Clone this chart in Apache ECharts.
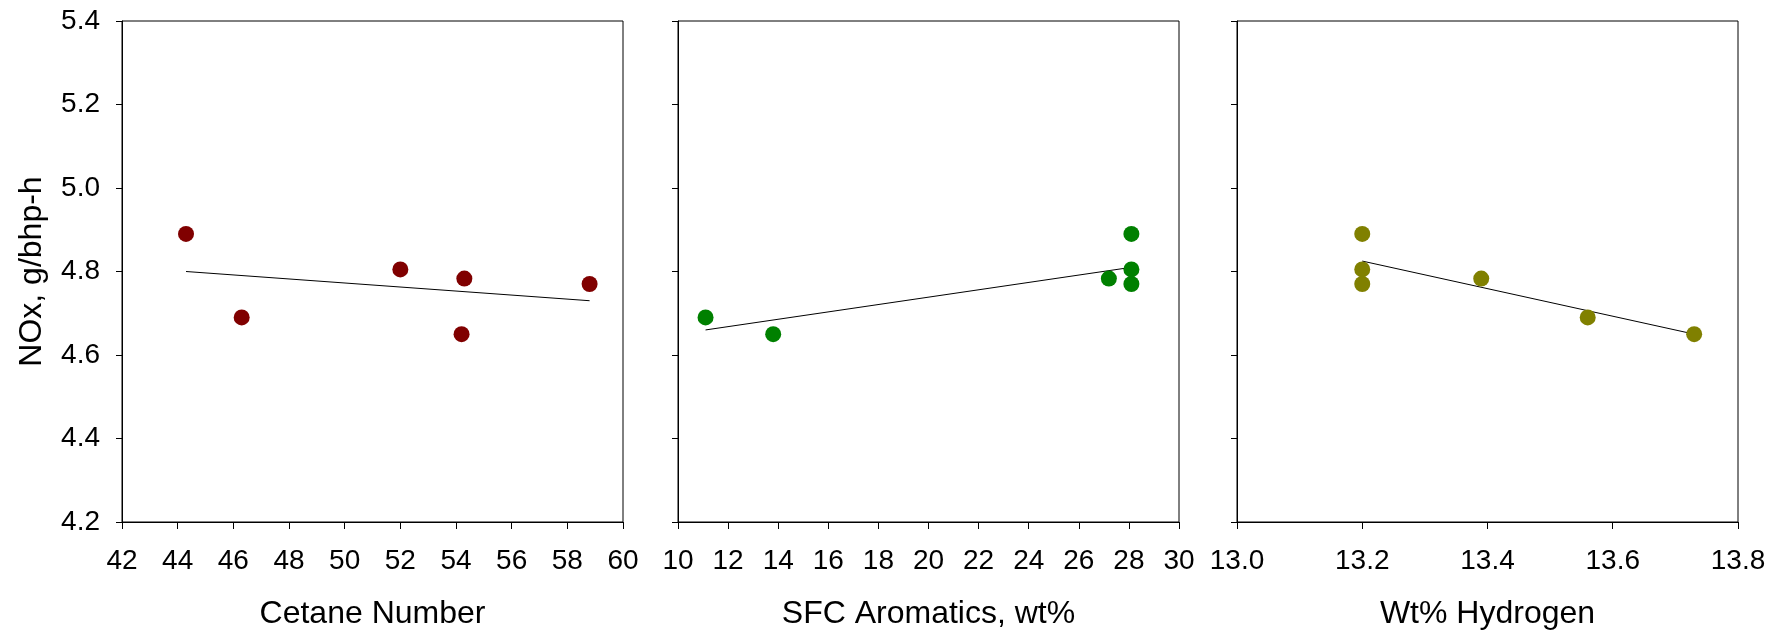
<!DOCTYPE html>
<html>
<head>
<meta charset="utf-8">
<title>NOx vs fuel properties</title>
<script src="https://cdn.jsdelivr.net/npm/echarts@6/dist/echarts.min.js"></script>
<style>
  html, body { margin: 0; padding: 0; background: #fff; }
  #chart { width: 1781px; height: 631px; }
</style>
</head>
<body>
<div id="chart"></div>
<script>
// NOx, g/bhp-h measured per fuel
var cetanePoints = [[44.3, 4.89], [46.3, 4.69], [52.0, 4.805], [54.3, 4.783], [54.2, 4.65], [58.8, 4.77]];
var cetaneTrend = [[44.3, 4.80], [58.8, 4.73]];

var aromaticsPoints = [[28.1, 4.89], [11.1, 4.69], [28.1, 4.805], [27.2, 4.783], [13.8, 4.65], [28.1, 4.77]];
var aromaticsTrend = [[11.1, 4.66], [28.1, 4.81]];

var hydrogenPoints = [[13.2, 4.89], [13.56, 4.69], [13.2, 4.805], [13.39, 4.783], [13.73, 4.65], [13.2, 4.77]];
var hydrogenTrend = [[13.2, 4.825], [13.73, 4.65]];

var yTitle = 'NOx, g/bhp-h';
var xTitles = ['Cetane Number', 'SFC Aromatics, wt%', 'Wt% Hydrogen'];
var xRanges = [[42, 60, 2], [10, 30, 2], [13.0, 13.8, 0.2]];
var yRange = [4.2, 5.4, 0.2];

var colors = ['#800000', '#008000', '#808000'];
var font = 'Arial, "Liberation Sans", sans-serif';
var lefts = [122, 678, 1237];

var chart = echarts.init(document.getElementById('chart'));

var grids = [], xAxes = [], yAxes = [], series = [];
var pointSets = [cetanePoints, aromaticsPoints, hydrogenPoints];
var trendSets = [cetaneTrend, aromaticsTrend, hydrogenTrend];

for (var i = 0; i < 3; i++) {
    grids.push({
        left: lefts[i], top: 21, width: 501, height: 501,
        outerBoundsMode: 'none', containLabel: false,
        show: true, borderColor: '#000', borderWidth: 1, backgroundColor: 'transparent'
    });
    xAxes.push({
        type: 'value', gridIndex: i,
        min: xRanges[i][0], max: xRanges[i][1], interval: xRanges[i][2],
        name: xTitles[i], nameLocation: 'middle', nameGap: 76,
        nameTextStyle: { fontFamily: font, fontSize: 32, color: '#000' },
        axisLine: { show: true, lineStyle: { color: '#000', width: 1 } },
        axisTick: { show: true, inside: false, length: 7, lineStyle: { color: '#000' } },
        axisLabel: {
            fontFamily: font, fontSize: 28, color: '#000', margin: 25,
            formatter: i == 2 ? function (v) { return v.toFixed(1); } : null
        },
        splitLine: { show: false }
    });
    yAxes.push({
        type: 'value', gridIndex: i,
        min: yRange[0], max: yRange[1], interval: yRange[2],
        name: i == 0 ? yTitle : '', nameLocation: 'middle', nameGap: 74,
        nameTextStyle: { fontFamily: font, fontSize: 32, color: '#000' },
        axisLine: { show: true, lineStyle: { color: '#000', width: 1 } },
        axisTick: { show: true, inside: false, length: 6, lineStyle: { color: '#000' } },
        axisLabel: {
            show: i == 0, fontFamily: font, fontSize: 28, color: '#000', margin: 22,
            formatter: function (v) { return v.toFixed(1); }
        },
        splitLine: { show: false }
    });
    series.push({
        type: 'line', xAxisIndex: i, yAxisIndex: i,
        data: trendSets[i], showSymbol: false, silent: true,
        lineStyle: { color: '#000', width: 1 }, z: 2
    });
    series.push({
        type: 'scatter', xAxisIndex: i, yAxisIndex: i,
        data: pointSets[i], symbolSize: 16,
        itemStyle: { color: colors[i], opacity: 1 }, z: 3
    });
}

chart.setOption({
    animation: false,
    grid: grids,
    xAxis: xAxes,
    yAxis: yAxes,
    series: series
});
</script>
</body>
</html>
